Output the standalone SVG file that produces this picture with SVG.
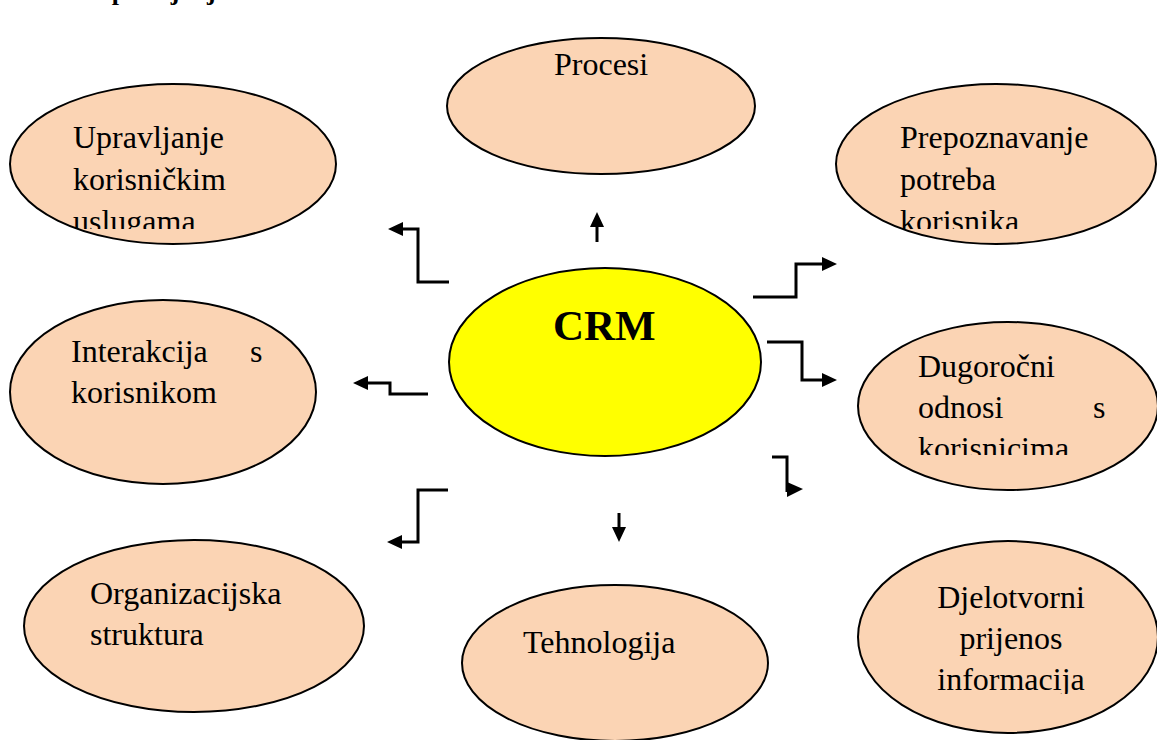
<svg xmlns="http://www.w3.org/2000/svg" width="1157" height="740" viewBox="0 0 1157 740">
<style>
.n{fill:#FBD4B4;stroke:#000;stroke-width:2}
.c{fill:#FFFF00;stroke:#000;stroke-width:2}
.t{font-family:"Liberation Serif","Times New Roman",serif;font-size:32px;fill:#000}
.b{font-family:"Liberation Serif","Times New Roman",serif;font-weight:bold;fill:#000}
.l{fill:none;stroke:#000;stroke-width:3}
.h{fill:#000}
</style>
<defs>
<clipPath id="c1"><rect x="0" y="0" width="1157" height="229"/></clipPath>
<clipPath id="c2"><rect x="0" y="0" width="1157" height="455"/></clipPath>
<clipPath id="c3"><rect x="0" y="0" width="1157" height="694"/></clipPath>
</defs>
<rect width="1157" height="740" fill="#fff"/>
<text class="b" x="4" y="0" font-size="26">Slika 1. Upravljanje odnosima s korisnicima</text>

<g id="procesi">
<ellipse class="n" cx="601" cy="106" rx="154" ry="68"/>
<text class="t" x="554" y="75">Procesi</text>
</g>
<g id="upravljanje">
<ellipse class="n" cx="173" cy="164" rx="163" ry="80"/>
<g clip-path="url(#c1)">
<text class="t" x="73" y="148">Upravljanje</text>
<text class="t" x="73" y="190">korisničkim</text>
<text class="t" x="73" y="232">uslugama</text>
</g>
</g>
<g id="prepoznavanje">
<ellipse class="n" cx="996" cy="164" rx="160" ry="80"/>
<g clip-path="url(#c1)">
<text class="t" x="900" y="148">Prepoznavanje</text>
<text class="t" x="900" y="190">potreba</text>
<text class="t" x="900" y="232">korisnika</text>
</g>
</g>
<g id="crm">
<ellipse class="c" cx="605" cy="362" rx="156" ry="94"/>
<text class="b" x="553" y="340" font-size="43">CRM</text>
</g>
<g id="interakcija">
<ellipse class="n" cx="163" cy="392" rx="153" ry="92"/>
<text class="t" x="71" y="362">Interakcija</text>
<text class="t" x="250" y="362">s</text>
<text class="t" x="71" y="403">korisnikom</text>
</g>
<g id="dugorocni">
<ellipse class="n" cx="1008" cy="406" rx="150" ry="84"/>
<g clip-path="url(#c2)">
<text class="t" x="918" y="377">Dugoročni</text>
<text class="t" x="918" y="418">odnosi</text>
<text class="t" x="1093" y="418">s</text>
<text class="t" x="918" y="459">korisnicima</text>
</g>
</g>
<g id="organizacijska">
<ellipse class="n" cx="194" cy="626" rx="170" ry="86"/>
<text class="t" x="90" y="604">Organizacijska</text>
<text class="t" x="90" y="645">struktura</text>
</g>
<g id="tehnologija">
<ellipse class="n" cx="615" cy="663" rx="153" ry="78"/>
<text class="t" x="523" y="653">Tehnologija</text>
</g>
<g id="djelotvorni">
<ellipse class="n" cx="1008" cy="637" rx="150" ry="96"/>
<g clip-path="url(#c3)" text-anchor="middle">
<text class="t" x="1011" y="608">Djelotvorni</text>
<text class="t" x="1011" y="649">prijenos</text>
<text class="t" x="1011" y="690">informacija</text>
</g>
</g>

<g id="connectors">
<path class="l" d="M449,282 H418 V229 H402"/>
<polygon class="h" points="388,229 403,222 403,236"/>
<path class="l" d="M597,242 V226"/>
<polygon class="h" points="597,212 590,227 604,227"/>
<path class="l" d="M753,297 H796 V264 H823"/>
<polygon class="h" points="837,264 822,257 822,271"/>
<path class="l" d="M767,342 H802 V380 H823"/>
<polygon class="h" points="837,380 822,373 822,387"/>
<path class="l" d="M772,457 H787 V492"/>
<polygon class="h" points="803,489 787,482 787,497"/>
<path class="l" d="M428,394 H390 V383 H367"/>
<polygon class="h" points="353,383 368,376 368,390"/>
<path class="l" d="M448,490 H418 V542 H402"/>
<polygon class="h" points="387,542 402,535 402,549"/>
<path class="l" d="M619,513 V528"/>
<polygon class="h" points="619,542 612,527 626,527"/>
</g>
</svg>
